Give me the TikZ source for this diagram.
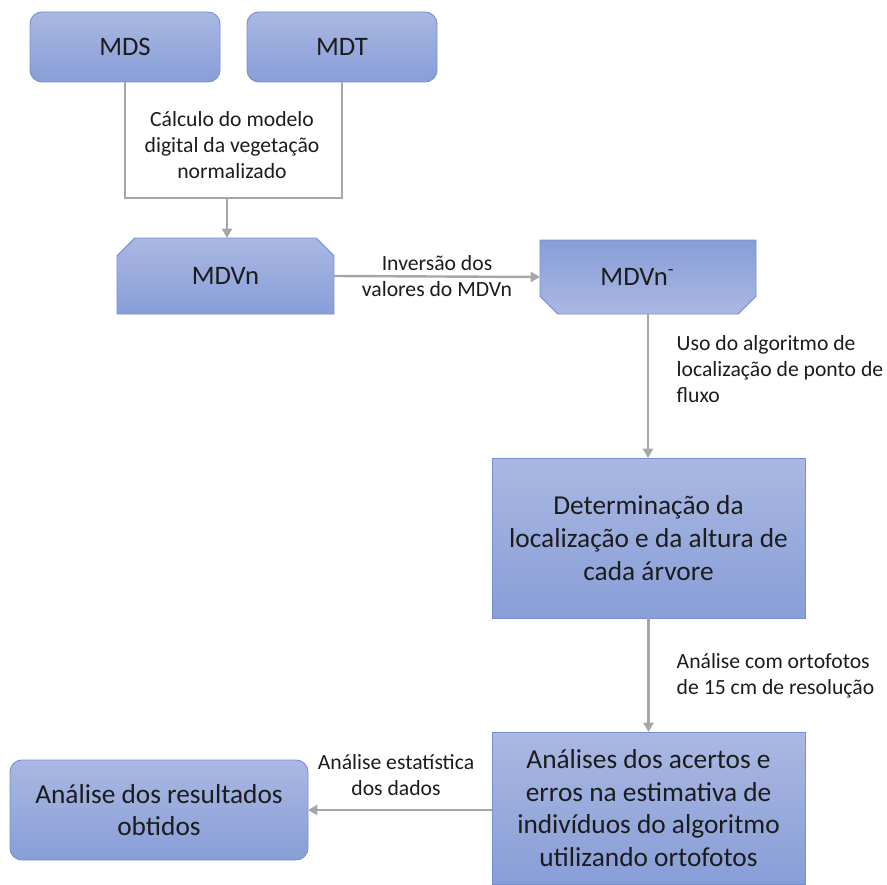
\documentclass[tikz,border=0pt]{standalone}
\usepackage{fontspec}
\setmainfont{Carlito}
\usetikzlibrary{arrows.meta,shapes.misc}

\definecolor{boxtop}{RGB}{170,184,226}
\definecolor{boxbot}{RGB}{136,158,216}
\definecolor{boxline}{RGB}{118,143,208}
\definecolor{wire}{RGB}{166,166,166}
\definecolor{txt}{RGB}{28,28,28}

\tikzset{
  box/.style={draw=boxline, line width=0.7pt, top color=boxtop, bottom color=boxbot,
    inner sep=0pt, outer sep=0pt, align=center, text=txt},
  smallbox/.style={box, rounded corners=9pt, minimum width=142.5pt, minimum height=52.5pt,
    font=\fontsize{20}{24}\selectfont},
  snipbox/.style={box, chamfered rectangle, chamfered rectangle xsep=7pt,
    chamfered rectangle ysep=7pt, font=\fontsize{20}{24}\selectfont},
  bigbox/.style={box, minimum width=234.75pt, font=\fontsize{20.5}{24.5}\selectfont},
  wirelabel/.style={text=txt, font=\fontsize{16.25}{19.5}\selectfont},
  link/.style={draw=wire, line width=1.8pt},
  arrow/.style={link, -{Triangle[length=7pt,width=7.5pt]}}
}

\begin{document}
\begin{tikzpicture}[x=0.75pt,y=-0.75pt]

\useasboundingbox (0,0) rectangle (887,884);

%% boxes
\node[smallbox] (mds) at (125,47) {MDS};
\node[smallbox] (mdt) at (342,47) {MDT};
\node[snipbox, chamfered rectangle corners={north west,north east},
      minimum width=162.75pt, minimum height=57pt] (mdvn) at (225.5,276) {MDVn};
\node[snipbox, chamfered rectangle corners={south west,south east},
      top color=boxbot, bottom color=boxtop,
      minimum width=162pt, minimum height=55.5pt] (mdvninv) at (648,277)
  {MDVn\textsuperscript{-}\hspace*{16pt}};
\node[bigbox, minimum height=120pt] (arvore) at (648.5,538)
  {Determinação da\\localização e da altura de\\cada árvore};
\node[bigbox, minimum height=114pt] (acertos) at (648.5,808)
  {Análises dos acertos e\\erros na estimativa de\\indivíduos do algoritmo\\utilizando ortofotos};
\node[box, rounded corners=9pt, minimum width=223.5pt, minimum height=75pt,
      font=\fontsize{20.5}{24.5}\selectfont] (resultados) at (159,810)
  {Análise dos resultados\\obtidos};

%% connectors
\coordinate (junc) at (227,198);
\draw[link] (mds.south) |- (junc) -| (mdt.south);
\draw[arrow] (junc) -- (junc |- mdvn.north);
\draw[arrow] (mdvn.east) -- (mdvninv.west);
\draw[arrow] (mdvninv.south) -- (mdvninv.south |- arvore.north);
\draw[arrow] (arvore.south) -- (arvore.south |- acertos.north);
\draw[arrow] (acertos.west |- resultados.east) -- (resultados.east);

%% connector labels
\node[wirelabel, align=center] (lcalc) at (232,145)
  {Cálculo do modelo\\digital da vegetação\\normalizado};
\node[wirelabel, align=center] (linv) at (437,276.5)
  {Inversão dos\\valores do MDVn};
\node[wirelabel, align=left, anchor=west] (luso) at (672,369)
  {Uso do algoritmo de\\localização de ponto de\\fluxo};
\node[wirelabel, align=left, anchor=west] (lorto) at (672,676)
  {Análise com ortofotos\\de 15 cm de resolução};
\node[wirelabel, align=center] (lest) at (396,775)
  {Análise estatística\\dos dados};

\end{tikzpicture}
\end{document}
